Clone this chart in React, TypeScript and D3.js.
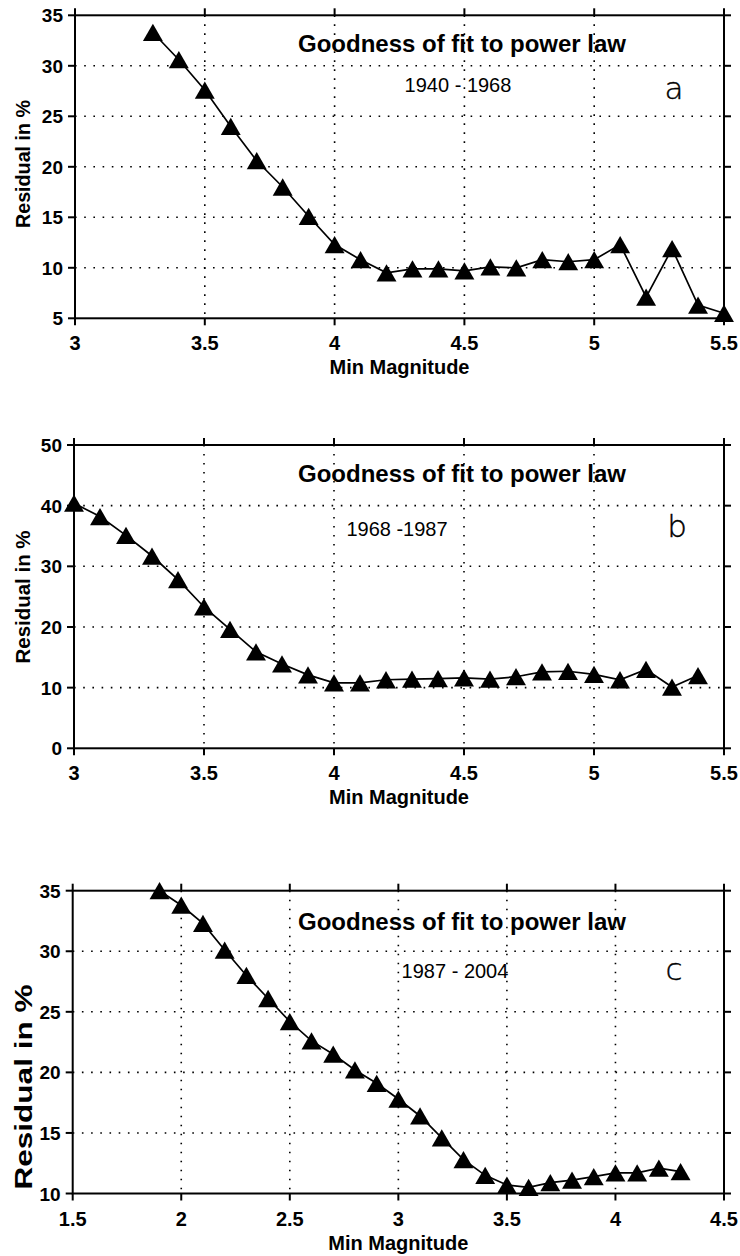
import React from "react";
import * as d3 from "d3";

// ---- data ----
const magA = [3.3, 3.4, 3.5, 3.6, 3.7, 3.8, 3.9, 4.0, 4.1, 4.2, 4.3, 4.4, 4.5, 4.6, 4.7, 4.8, 4.9, 5.0, 5.1, 5.2, 5.3, 5.4, 5.5];
const resA = [33.3, 30.6, 27.6, 24.0, 20.6, 18.0, 15.1, 12.3, 10.8, 9.5, 9.9, 9.9, 9.7, 10.1, 10.0, 10.8, 10.6, 10.8, 12.3, 7.1, 11.9, 6.3, 5.5];

const magB = [3.0, 3.1, 3.2, 3.3, 3.4, 3.5, 3.6, 3.7, 3.8, 3.9, 4.0, 4.1, 4.2, 4.3, 4.4, 4.5, 4.6, 4.7, 4.8, 4.9, 5.0, 5.1, 5.2, 5.3, 5.4];
const resB = [40.4, 38.2, 35.1, 31.7, 27.8, 23.3, 19.6, 15.9, 13.9, 12.1, 10.8, 10.8, 11.3, 11.4, 11.5, 11.6, 11.4, 11.8, 12.6, 12.7, 12.2, 11.3, 13.0, 10.1, 12.0];

const magC = [1.9, 2.0, 2.1, 2.2, 2.3, 2.4, 2.5, 2.6, 2.7, 2.8, 2.9, 3.0, 3.1, 3.2, 3.3, 3.4, 3.5, 3.6, 3.7, 3.8, 3.9, 4.0, 4.1, 4.2, 4.3];
const resC = [35.0, 33.8, 32.3, 30.1, 28.0, 26.1, 24.2, 22.6, 21.5, 20.2, 19.1, 17.8, 16.4, 14.6, 12.8, 11.5, 10.7, 10.5, 10.9, 11.1, 11.4, 11.7, 11.7, 12.1, 11.8];

const xTicksAB = [3, 3.5, 4, 4.5, 5, 5.5];
const xTicksC = [1.5, 2, 2.5, 3, 3.5, 4, 4.5];
const yTicksA = [5, 10, 15, 20, 25, 30, 35];
const yTicksB = [0, 10, 20, 30, 40, 50];
const yTicksC = [10, 15, 20, 25, 30, 35];

const titleText = "Goodness of fit to power law";
const periods = ["1940 - 1968", "1968 -1987", "1987 - 2004"];
const letters = ["a", "b", "c"];
const xLabel = "Min Magnitude";
const yLabel = "Residual in %";

const FONT = "'Liberation Sans', Arial, Helvetica, sans-serif";

type PanelProps = {
  mags: number[];
  res: number[];
  xTicks: number[];
  yTicks: number[];
  left: number;
  right: number;
  top: number;
  bottom: number;
  period: string;
  periodX: number;
  periodY: number;
  letter: string;
  letterX: number;
  letterY: number;
  titleY: number;
  yLabelSize: number;
  yLabelLen: number;
  yLabelX: number;
  yLabelY: number;
};

function Panel(p: PanelProps) {
  const x = d3.scaleLinear().domain([p.xTicks[0], p.xTicks[p.xTicks.length - 1]]).range([p.left, p.right]);
  const y = d3.scaleLinear().domain([p.yTicks[0], p.yTicks[p.yTicks.length - 1]]).range([p.bottom, p.top]);
  const pts: [number, number][] = p.mags.map((m, i) => [m, p.res[i]]);
  const line = d3.line<[number, number]>().x((d) => x(d[0])).y((d) => y(d[1]));
  const triSize = 172;
  const tri = d3.symbol().type(d3.symbolTriangle).size(triSize)() as string;
  const triH = Math.sqrt(triSize / (3 * Math.sqrt(3))) * 3;
  const tk = 7;
  const innerX = p.xTicks.slice(1, -1);
  const innerY = p.yTicks.slice(1, -1);
  return (
    <g>
      {innerX.map((t) => (
        <line key={"gx" + t} x1={x(t)} x2={x(t)} y1={p.top} y2={p.bottom} stroke="#000" strokeWidth={1.6} strokeDasharray="1.6 7.4" />
      ))}
      {innerY.map((t) => (
        <line key={"gy" + t} x1={p.left} x2={p.right} y1={y(t)} y2={y(t)} stroke="#000" strokeWidth={1.6} strokeDasharray="1.6 7.6" />
      ))}
      <rect x={p.left} y={p.top} width={p.right - p.left} height={p.bottom - p.top} fill="none" stroke="#000" strokeWidth={2} />
      {p.xTicks.map((t) => (
        <g key={"tx" + t}>
          <line x1={x(t)} x2={x(t)} y1={p.bottom} y2={p.bottom + tk} stroke="#000" strokeWidth={2} />
          <line x1={x(t)} x2={x(t)} y1={p.top} y2={p.top - tk} stroke="#000" strokeWidth={2} />
          <text x={x(t)} y={p.bottom + 32} textAnchor="middle" fontFamily={FONT} fontWeight="bold" fontSize={20}>
            {String(t)}
          </text>
        </g>
      ))}
      {p.yTicks.map((t) => (
        <g key={"ty" + t}>
          <line x1={p.left - tk} x2={p.left} y1={y(t)} y2={y(t)} stroke="#000" strokeWidth={2} />
          <line x1={p.right} x2={p.right + tk} y1={y(t)} y2={y(t)} stroke="#000" strokeWidth={2} />
          <text x={p.left - 12} y={y(t) + 7} textAnchor="end" fontFamily={FONT} fontWeight="bold" fontSize={19}>
            {String(t)}
          </text>
        </g>
      ))}
      <path d={line(pts) as string} fill="none" stroke="#000" strokeWidth={1.7} />
      {pts.map((d, i) => (
        <path key={"m" + i} d={tri} transform={`translate(${x(d[0])},${y(d[1]) + triH / 6})`} fill="#000" />
      ))}
      <text x={462} y={p.titleY} textAnchor="middle" fontFamily={FONT} fontWeight="bold" fontSize={24}>
        {titleText}
      </text>
      <text x={p.periodX} y={p.periodY} textAnchor="middle" fontFamily={FONT} fontSize={20}>
        {p.period}
      </text>
      <text x={p.letterX} y={p.letterY} textAnchor="middle" fontFamily="'DejaVu Sans', sans-serif" fontWeight={200} fontSize={31} stroke="#000" strokeWidth={0.4}>
        {p.letter}
      </text>
      <text x={(p.left + p.right) / 2} y={p.bottom + 56} textAnchor="middle" fontFamily={FONT} fontWeight="bold" fontSize={20}>
        {xLabel}
      </text>
      <text
        transform={`translate(${p.yLabelX},${p.yLabelY}) rotate(-90)`}
        textAnchor="middle"
        fontFamily={FONT}
        fontWeight="bold"
        fontSize={p.yLabelSize}
        textLength={p.yLabelLen}
        lengthAdjust="spacingAndGlyphs"
      >
        {yLabel}
      </text>
    </g>
  );
}

export default function App() {
  return (
    <svg width={740} height={1256} style={{ position: "absolute", left: 0, top: 0, background: "#fff" }}>
      <rect x={0} y={0} width={740} height={1256} fill="#fff" />
      <Panel
        mags={magA} res={resA} xTicks={xTicksAB} yTicks={yTicksA}
        left={75} right={724} top={15.3} bottom={318.3}
        period={periods[0]} periodX={458} periodY={92}
        letter={letters[0]} letterX={674} letterY={99}
        titleY={52}
        yLabelSize={20} yLabelLen={128} yLabelX={30} yLabelY={164}
      />
      <Panel
        mags={magB} res={resB} xTicks={xTicksAB} yTicks={yTicksB}
        left={74} right={724} top={445} bottom={748.3}
        period={periods[1]} periodX={397} periodY={536}
        letter={letters[1]} letterX={677} letterY={537}
        titleY={482}
        yLabelSize={20} yLabelLen={133} yLabelX={30} yLabelY={597}
      />
      <Panel
        mags={magC} res={resC} xTicks={xTicksC} yTicks={yTicksC}
        left={72.7} right={724} top={890.7} bottom={1193.5}
        period={periods[2]} periodX={455} periodY={978}
        letter={letters[2]} letterX={674} letterY={980}
        titleY={930}
        yLabelSize={24} yLabelLen={205} yLabelX={32} yLabelY={1087}
      />
    </svg>
  );
}
